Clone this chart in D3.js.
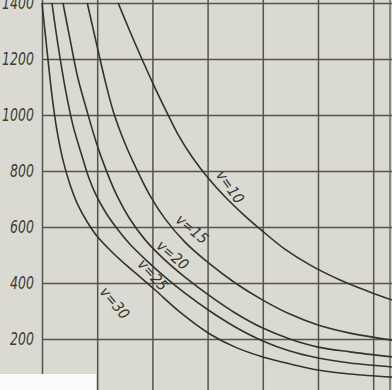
<!DOCTYPE html>
<html>
<head>
<meta charset="utf-8">
<script src="https://cdn.jsdelivr.net/npm/d3@7"></script>
<style>
    body { margin: 0; background: #d9d9d1; }
    svg { display: block; }
</style>
</head>
<body>
<div id="plot"></div>
<script>
// data
// x in grid units (one per vertical line), y in chart units
var xTicks = [0, 1, 2, 3, 4, 5, 6];
var yTicks = [200, 400, 600, 800, 1000, 1200, 1400];
var speedNames = ["v=10", "v=15", "v=20", "v=25", "v=30"];

var v10 = [[1.38, 1400], [1.59, 1300], [1.81, 1200], [2.03, 1104], [2.25, 1014], [2.46, 932], [2.72, 850],
    [3.01, 775], [3.32, 707], [3.64, 646], [3.99, 586], [4.40, 521], [4.86, 464], [5.40, 411], [5.94, 368],
    [6.34, 339]];
var v15 = [[0.82, 1400], [0.98, 1261], [1.14, 1125], [1.30, 1007], [1.50, 900], [1.72, 804], [1.96, 711],
    [2.23, 629], [2.59, 546], [3.04, 468], [3.50, 400], [4.0, 339], [4.49, 289], [5.0, 250], [5.58, 221],
    [6.34, 196]];
var v20 = [[0.38, 1400], [0.51, 1268], [0.65, 1132], [0.82, 1011], [0.98, 904], [1.16, 804], [1.36, 711],
    [1.58, 632], [1.87, 554], [2.19, 489], [2.59, 421], [3.04, 354], [3.50, 293], [4.0, 239], [4.49, 200],
    [5.0, 171], [5.58, 154], [6.34, 136]];
var v25 = [[0.18, 1400], [0.29, 1250], [0.42, 1096], [0.56, 964], [0.73, 850], [0.85, 775], [0.98, 714],
    [1.16, 650], [1.38, 589], [1.59, 539], [1.90, 479], [2.23, 421], [2.59, 364], [3.04, 300], [3.50, 243],
    [4.0, 193], [4.49, 157], [5.0, 132], [5.58, 114], [6.34, 100]];
var v30 = [[0.0, 1400], [0.09, 1232], [0.18, 1071], [0.27, 946], [0.38, 839], [0.51, 750], [0.65, 679],
    [0.82, 618], [1.01, 564], [1.23, 518], [1.50, 468], [1.78, 421], [2.05, 375], [2.5, 296], [3.04, 218],
    [3.50, 171], [4.0, 136], [4.49, 111], [5.0, 89], [5.58, 75], [6.34, 64]];

// where each curve name sits: [x, y, angle]
var labelAt = [[3.41, 743, 55], [2.72, 593, 40], [2.37, 500, 40], [2.01, 429, 48], [1.32, 329, 50]];

var series = [v10, v15, v20, v25, v30];

// workspace
var svgWidth = 392;
var svgHeight = 390;
var margin = { top: 3, left: 42 };

var svg = d3.select("#plot")
    .append("svg")
    .attr("width", svgWidth)
    .attr("height", svgHeight);

svg.append("rect")
    .attr("width", svgWidth)
    .attr("height", svgHeight)
    .attr("fill", "#dadad2");

// scales
var xScale = d3.scaleLinear()
    .domain([0, 6.35])
    .range([margin.left, 392.5]);

var yScale = d3.scaleLinear()
    .domain([0, 1400])
    .range([395, margin.top]);

// grid
var xGrid = d3.axisBottom(xScale)
    .tickValues(xTicks)
    .tickSize(-(svgHeight - margin.top + 10))
    .tickFormat("");

svg.append("g")
    .attr("class", "xgrid")
    .attr("transform", `translate(0, ${svgHeight + 5})`)
    .call(xGrid)
    .call(g => g.select(".domain").remove())
    .selectAll("line")
    .attr("stroke", "#55554f")
    .attr("stroke-width", 1.5);

var yAxis = d3.axisLeft(yScale)
    .tickValues(yTicks)
    .tickSize(-(svgWidth - margin.left))
    .tickPadding(8)
    .tickFormat(d3.format("d"));

var yG = svg.append("g")
    .attr("class", "yaxis")
    .attr("transform", `translate(${margin.left}, 0)`)
    .call(yAxis);

// narrow, tall italic digits like the print
var squeeze = 0.82;
yG.select(".domain").remove();
yG.selectAll("line")
    .attr("stroke", (d, i) => i % 2 ? "#5a514d" : "#55554f")
    .attr("stroke-width", 1.5);
yG.selectAll("text")
    .attr("x", -8 / squeeze)
    .attr("transform", `scale(${squeeze}, 1)`)
    .attr("fill", "#3a3a38")
    .attr("font-family", "'Liberation Sans Narrow', 'DejaVu Sans Condensed', sans-serif")
    .attr("font-style", "italic")
    .attr("font-size", "17px");

// right edge of the sheet
svg.append("line")
    .attr("x1", 390).attr("x2", 390)
    .attr("y1", 0).attr("y2", svgHeight)
    .attr("stroke", "#6a6a64")
    .attr("stroke-width", 1.5);

// curves
svg.append("clipPath")
    .attr("id", "plotClip")
    .append("rect")
    .attr("x", margin.left - 2)
    .attr("y", 0)
    .attr("width", svgWidth)
    .attr("height", svgHeight);

var lineGenerator = d3.line()
    .x(d => xScale(d[0]))
    .y(d => yScale(d[1]))
    .curve(d3.curveCatmullRom.alpha(0.5));

svg.append("g")
    .attr("clip-path", "url(#plotClip)")
    .selectAll("path")
    .data(series)
    .enter()
    .append("path")
    .attr("d", d => lineGenerator(d))
    .attr("fill", "none")
    .attr("stroke", "#33332f")
    .attr("stroke-width", 1.6);

// curve names
svg.append("g")
    .selectAll("text")
    .data(speedNames)
    .enter()
    .append("text")
    .attr("transform", (d, i) => `translate(${xScale(labelAt[i][0])}, ${yScale(labelAt[i][1])}) rotate(${labelAt[i][2]})`)
    .attr("text-anchor", "middle")
    .attr("dy", "0.35em")
    .attr("fill", "#33332f")
    .attr("font-family", "'Liberation Sans Narrow', 'DejaVu Sans Condensed', sans-serif")
    .attr("font-style", "italic")
    .attr("font-size", "15px")
    .text(d => d);

// white corner of the scan
svg.append("rect")
    .attr("x", 0)
    .attr("y", 374)
    .attr("width", 96)
    .attr("height", 16)
    .attr("fill", "#fbfbf9");
</script>
</body>
</html>
